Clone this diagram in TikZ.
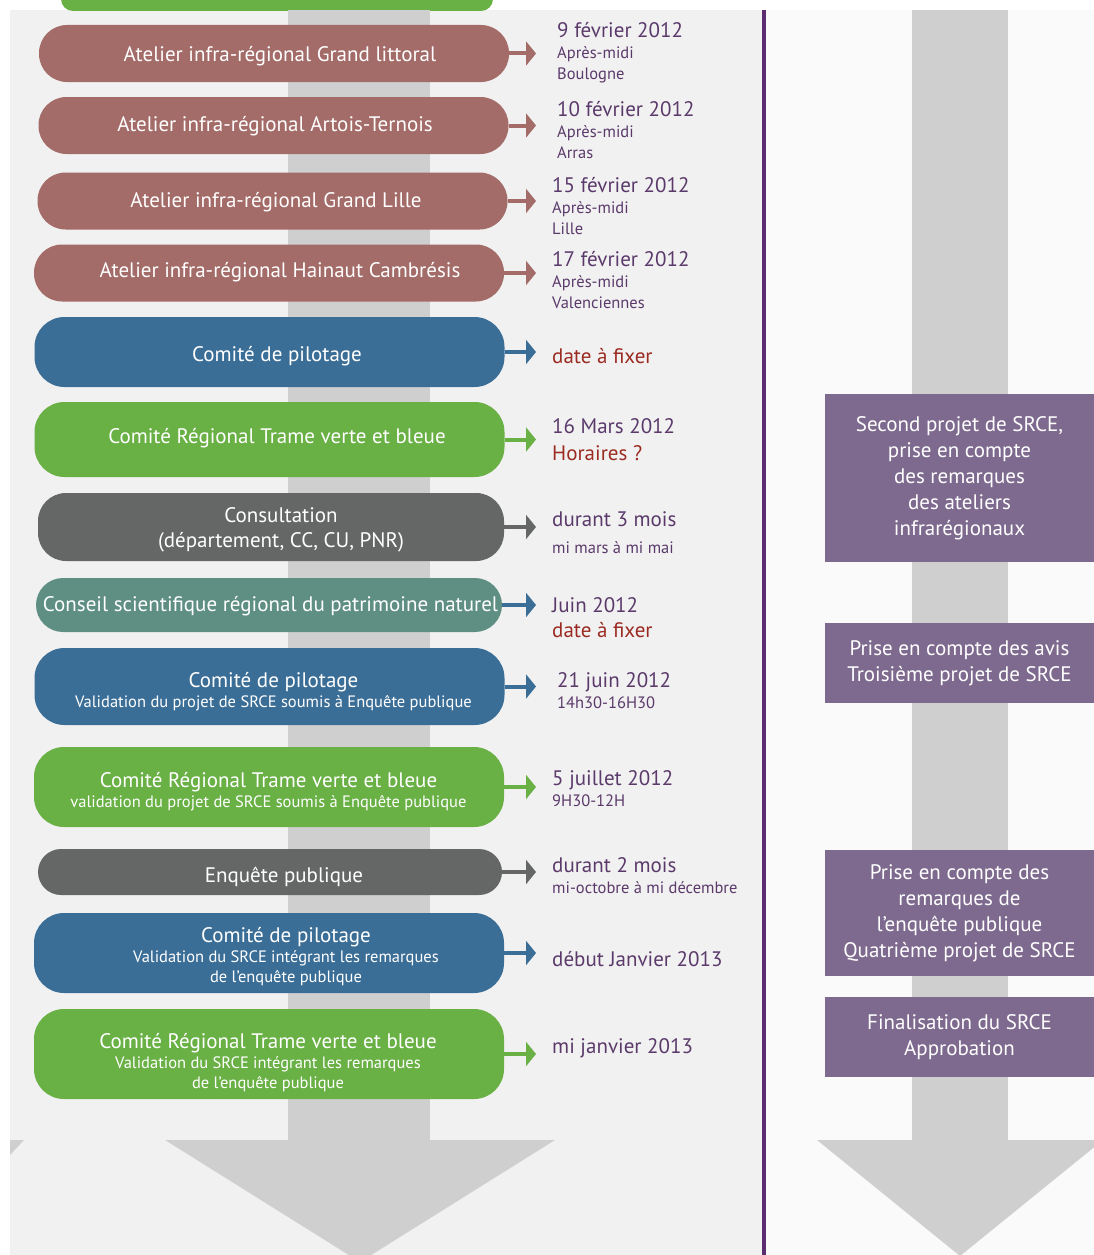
\documentclass[tikz,border=0pt]{standalone}
\usepackage{fontspec}
\setmainfont{PT Sans}
\usetikzlibrary{arrows.meta}

\definecolor{atelierc}{HTML}{A46C68}
\definecolor{copilc}{HTML}{3B6E97}
\definecolor{crtvbc}{HTML}{69B045}
\definecolor{consultc}{HTML}{656766}
\definecolor{csrpnc}{HTML}{5F8F83}
\definecolor{projetc}{HTML}{7E6A8E}
\definecolor{datec}{HTML}{5B3A6B}
\definecolor{rougec}{HTML}{9B2B22}
\definecolor{linec}{HTML}{5B2C6F}
\definecolor{shaftc}{HTML}{CFCFCF}
\definecolor{leftbg}{HTML}{F1F1F1}
\definecolor{rightbg}{HTML}{FAFAFA}

\newcommand{\grand}[1]{{\fontsize{21}{21}\selectfont #1}}
\newcommand{\titre}[1]{{\fontsize{21}{20}\selectfont #1}}
\newcommand{\rouge}[1]{\textcolor{rougec}{#1}}

\begin{document}
\begin{tikzpicture}
        [x=1pt, y=-1pt,
        box/.style={rectangle, inner sep=0pt, minimum width=470pt},
        atelier/.style={box, fill=atelierc, minimum height=57pt, rounded corners=28pt},
        copil/.style={box, fill=copilc, rounded corners=30pt},
        crtvb/.style={box, fill=crtvbc, rounded corners=30pt},
        consult/.style={box, fill=consultc, rounded corners=28pt},
        csrpn/.style={box, fill=csrpnc, rounded corners=27pt},
        boxtext/.style={inner sep=0pt, text=white, align=center, font=\fontsize{21}{25}\selectfont},
        sub/.style={boxtext, font=\fontsize{16.5}{20}\selectfont},
        projet/.style={rectangle, fill=projetc, text=white, inner sep=0pt, align=center, minimum width=269pt, font=\fontsize{21}{26}\selectfont},
        date/.style={anchor=west, inner sep=0pt, align=left, text=datec, font=\fontsize{16.5}{21}\selectfont},
        arr/.style={line width=4pt, -{Triangle[length=10pt, width=24pt]}}]
        \useasboundingbox (0,0) rectangle (1094,1255);
        \clip (0,0) rectangle (1094,1255);

        % fonds
        \fill[white] (0,0) rectangle (1094,1255);
        \fill[leftbg] (10,10) rectangle (762,1255);
        \fill[rightbg] (766,10) rectangle (1094,1255);
        \fill[crtvbc, rounded corners=12pt] (61,-40) rectangle (493,11);

        % grandes fleches grises
        \fill[shaftc] (288,10) rectangle (430,1141);
        \fill[shaftc] (165,1140) -- (555,1140) -- (360,1262) -- cycle;
        \fill[shaftc] (10,1140) -- (24,1140) -- (10,1155) -- cycle;
        \fill[shaftc] (912,10) rectangle (1008,1141);
        \fill[shaftc] (817,1140) -- (1103,1140) -- (960,1256) -- cycle;
        \draw[line width=4pt, linec] (764,10) -- (764,1255);

        \coordinate (tip) at (536,0);

        \node[atelier] (b1) at (274,53.5) {};
        \node[atelier] (b2) at (273.5,125.5) {};
        \node[atelier] (b3) at (272.5,201) {};
        \node[atelier] (b4) at (269,273) {};
        \node[copil, minimum height=70pt] (b5) at (269.5,352) {};
        \node[crtvb, minimum height=75pt] (b6) at (269.5,439.5) {};
        \node[consult, minimum width=466pt, minimum height=68pt] (b7) at (271,527) {};
        \node[csrpn, minimum width=466pt, minimum height=54pt] (b8) at (269,605) {};
        \node[copil, minimum height=77pt] (b9) at (269.5,686.5) {};
        \node[crtvb, minimum height=80pt] (b10) at (269,787) {};
        \node[consult, minimum width=464pt, minimum height=46pt, rounded corners=23pt] (b11) at (270,872) {};
        \node[copil, minimum height=80pt] (b12) at (269,953) {};
        \node[crtvb, minimum height=90pt] (b13) at (269,1054) {};

        \node[boxtext] (t1) at (280,56.5) {Atelier infra-régional Grand littoral};
        \node[boxtext] (t2) at (275,126.5) {Atelier infra-régional Artois-Ternois};
        \node[boxtext] (t3) at (276,202.5) {Atelier infra-régional Grand Lille};
        \node[boxtext] (t4) at (280,272.5) {Atelier infra-régional Hainaut Cambrésis};
        \node[boxtext] (t5) at (277,356.5) {Comité de pilotage};
        \node[boxtext] (t6) at (277,438.5) {Comité Régional Trame verte et bleue};
        \node[boxtext] (t7) at (281,530) {Consultation\\(département, CC, CU, PNR)};
        \node[boxtext] (t8) at (270.5,606.5) {Conseil scientifique régional du patrimoine naturel};
        \node[sub] (t9) at (273.5,691.5) {\titre{Comité de pilotage}\\Validation du projet de SRCE soumis à Enquête publique};
        \node[sub] (t10) at (268.5,791.5) {\titre{Comité Régional Trame verte et bleue}\\validation du projet de SRCE soumis à Enquête publique};
        \node[boxtext] (t11) at (284,876.5) {Enquête publique};
        \node[sub] (t12) at (286,957) {\titre{Comité de pilotage}\\Validation du SRCE intégrant les remarques\\de l’enquête publique};
        \node[sub] (t13) at (268,1062.5) {\titre{Comité Régional Trame verte et bleue}\\Validation du SRCE intégrant les remarques\\de l’enquête publique};

        \draw[arr, atelierc] (b1.east) -- (b1.east -| tip);
        \draw[arr, atelierc] (b2.east) -- (b2.east -| tip);
        \draw[arr, atelierc] (b3.east) -- (b3.east -| tip);
        \draw[arr, atelierc] (b4.east) -- (b4.east -| tip);
        \draw[arr, copilc] (b5.east) -- (b5.east -| tip);
        \draw[arr, crtvbc] (b6.east) -- (b6.east -| tip);
        \draw[arr, consultc] (b7.east) -- (b7.east -| tip);
        \draw[arr, copilc] (b8.east) -- (b8.east -| tip);%fleche bleue
        \draw[arr, copilc] (b9.east) -- (b9.east -| tip);
        \draw[arr, crtvbc] (b10.east) -- (b10.east -| tip);
        \draw[arr, consultc] (b11.east) -- (b11.east -| tip);
        \draw[arr, copilc] (b12.east) -- (b12.east -| tip);
        \draw[arr, crtvbc] (b13.east) -- (b13.east -| tip);

        \node[date] (d1) at (557,53) {\grand{9 février 2012}\\Après-midi\\Boulogne};
        \node[date] (d2) at (557,130) {\grand{10 février 2012}\\Après-midi\\Arras};
        \node[date] (d3) at (552,206) {\grand{15 février 2012}\\Après-midi\\Lille};
        \node[date] (d4) at (552,280) {\grand{17 février 2012}\\Après-midi\\Valenciennes};
        \node[date] (d5) at (552,356) {\grand{\rouge{date à fixer}}};
        \node[date, font=\fontsize{21}{27}\selectfont] (d6) at (552,440) {16 Mars 2012\\\rouge{Horaires ?}};
        \node[date] (d7) at (552,533) {\grand{durant 3 mois}\\[6pt]mi mars à mi mai};
        \node[date, font=\fontsize{21}{25}\selectfont] (d8) at (552,618) {Juin 2012\\\rouge{date à fixer}};
        \node[date] (d9) at (557,691) {\grand{21 juin 2012}\\14h30-16H30};
        \node[date] (d10) at (552,789) {\grand{5 juillet 2012}\\9H30-12H};
        \node[date] (d11) at (552,876) {\grand{durant 2 mois}\\mi-octobre à mi décembre};
        \node[date] (d12) at (552,959) {\grand{début Janvier 2013}};
        \node[date] (d13) at (552,1048) {\grand{mi janvier 2013}};

        \node[projet, minimum height=168pt] (p1) at (959.5,478) {Second projet de SRCE,\\prise en compte\\des remarques\\des ateliers\\infrarégionaux};
        \node[projet, minimum height=80pt] (p2) at (959.5,663) {Prise en compte des avis\\Troisième projet de SRCE};
        \node[projet, minimum height=126pt] (p3) at (959.5,913) {Prise en compte des\\remarques de\\l’enquête publique\\Quatrième projet de SRCE};
        \node[projet, minimum height=80pt] (p4) at (959.5,1037) {Finalisation du SRCE\\Approbation};
    \end{tikzpicture}
\end{document}
